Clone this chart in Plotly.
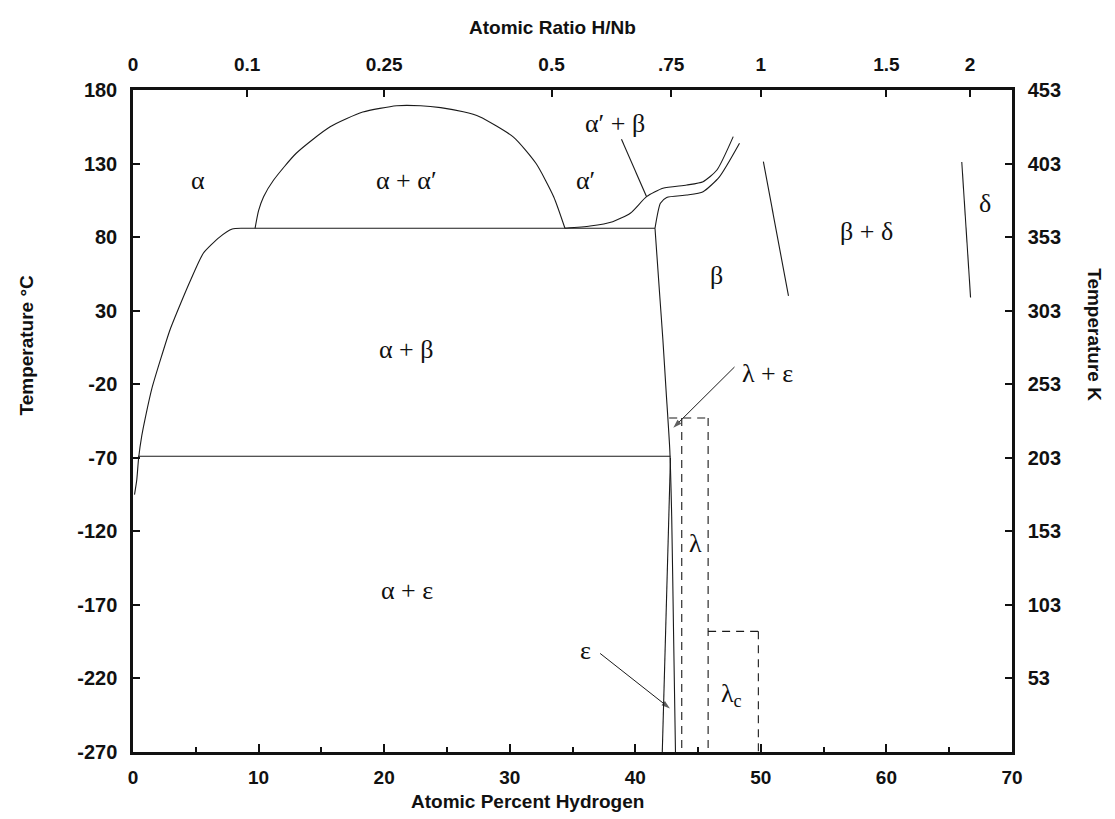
import plotly.graph_objects as go

# ---------------- data ----------------
# alpha solvus (alpha / alpha+beta boundary)
alpha_solvus_x = [0.12, 0.3, 0.45, 0.7, 1.0, 1.5, 2.2, 2.95, 3.8, 4.6, 5.6, 6.9, 7.9, 8.6]
alpha_solvus_t = [-95, -85, -70, -55, -42, -23, -3, 17, 35, 51, 69, 80, 85.5, 86]

# tie line at ~86 C
tie86_x = [8.6, 41.57]
tie86_t = [86, 86]

# alpha + alpha' miscibility dome
dome_x = [9.72, 10.0, 10.4, 11.2, 13.0, 15.7, 18.3, 21.0, 22.9, 24.5, 26.3, 27.6, 30.3, 32.1, 33.5, 34.4]
dome_t = [86, 98, 107.5, 118.8, 137, 155, 165, 169.3, 169.3, 168, 165.2, 161.9, 148, 130, 107.5, 86]

# alpha' / alpha'+beta boundary
alpha_p_x = [34.4, 36.4, 38.2, 39.6, 40.9, 42.2, 44.1, 45.4, 46.5, 47.8]
alpha_p_t = [86, 87.5, 90.5, 96.2, 107.5, 113.2, 115.4, 117.7, 125.6, 148.3]

# beta boundary, upper part
beta_up_x = [41.57, 42.0, 42.5, 44.1, 45.4, 46.7, 48.3]
beta_up_t = [86, 103, 107, 108.6, 110.9, 121, 143.8]

# beta boundary, lower part (down to the bottom)
beta_low_x = [41.57, 41.95, 42.2, 42.45, 42.75, 42.9, 43.05, 43.2]
beta_low_t = [86, 40, 10, -24, -65, -110, -190, -270]

# epsilon left boundary
eps_x = [42.15, 42.45, 42.8]
eps_t = [-270, -170, -70]

# tie line at ~ -70 C
tie70_x = [0.4, 42.8]
tie70_t = [-69, -69]

# beta / beta+delta and delta boundaries
bd_x = [50.2, 52.2]
bd_t = [131.3, 40]
delta_x = [66.0, 66.7]
delta_t = [131, 39]

# dashed lambda and lambda_c fields
lam_top_x = [42.7, 45.8]
lam_top_t = [-43, -43]
lam_left_x = [43.7, 43.7]
lam_left_t = [-43, -270]
lam_right_x = [45.8, 45.8]
lam_right_t = [-43, -270]
lamc_top_x = [45.8, 49.8]
lamc_top_t = [-188, -188]
lamc_right_x = [49.8, 49.8]
lamc_right_t = [-188, -270]

# phase labels
label_text = ["α", "α + α′", "α + β", "α + ε", "α′", "α′ + β", "β", "β + δ", "δ",
              "λ", "λ<sub>c</sub>", "λ + ε", "ε"]
label_x = [5.2, 21.8, 21.8, 21.8, 36.0, 38.4, 46.5, 58.4, 67.85, 44.8, 47.7, 50.5, 36.0]
label_t = [118.8, 118.8, 3.3, -160, 118.8, 157.3, 54.2, 83.7, 103, -128, -231, -12.6, -200.7]

# leader line and arrows
leader_x = [38.9, 40.9]
leader_t = [146.5, 107.5]
arrow_tail_x = [47.9, 37.2]
arrow_tail_t = [-8.3, -203]
arrow_tip_x = [43.03, 42.76]
arrow_tip_t = [-49.6, -240.4]

# axes
x_ticks = [0, 10, 20, 30, 40, 50, 60, 70]
ratio_ticks = [0, 0.1, 0.25, 0.5, 0.75, 1, 1.5, 2]
ratio_labels = ["0", "0.1", "0.25", "0.5", ".75", "1", "1.5", "2"]
c_ticks = [-270, -220, -170, -120, -70, -20, 30, 80, 130, 180]
c_labels = [str(t) for t in c_ticks]
k_ticks = [-220, -170, -120, -70, -20, 30, 80, 130, 180]
k_labels = [str(t + 273) for t in k_ticks]

# ---------------- figure ----------------
LC = "#1a1a1a"
fig = go.Figure()

def solid(x, y, shape="linear", w=1.1):
    fig.add_trace(go.Scatter(x=x, y=y, mode="lines", showlegend=False, hoverinfo="skip",
                             line=dict(color=LC, width=w, shape=shape, smoothing=0.6)))

def dashed(x, y):
    fig.add_trace(go.Scatter(x=x, y=y, mode="lines", showlegend=False, hoverinfo="skip",
                             line=dict(color=LC, width=1.1, dash="8px,6px")))

solid(alpha_solvus_x, alpha_solvus_t, "spline")
solid(tie86_x, tie86_t)
solid(dome_x, dome_t, "spline")
solid(alpha_p_x, alpha_p_t, "spline")
solid(beta_up_x, beta_up_t, "spline")
solid(beta_low_x, beta_low_t, "spline")
solid(eps_x, eps_t)
solid(tie70_x, tie70_t)
solid(bd_x, bd_t)
solid(delta_x, delta_t)
solid(leader_x, leader_t)
for xs, ys in [(lam_top_x, lam_top_t), (lam_left_x, lam_left_t), (lam_right_x, lam_right_t),
               (lamc_top_x, lamc_top_t), (lamc_right_x, lamc_right_t)]:
    dashed(xs, ys)

# arrows: shaft plus arrow-shaped marker at the tip, oriented along the shaft
for tx, ty, hx, hy in zip(arrow_tail_x, arrow_tail_t, arrow_tip_x, arrow_tip_t):
    fig.add_trace(go.Scatter(x=[tx, hx], y=[ty, hy], mode="lines+markers", showlegend=False,
                             hoverinfo="skip", line=dict(color=LC, width=1),
                             marker=dict(symbol="arrow", size=[0, 9], angleref="previous",
                                         color=LC, line=dict(width=0))))

# invisible trace to activate secondary axes
fig.add_trace(go.Scatter(x=[0, 70], y=[-270, 180], xaxis="x2", yaxis="y2", mode="markers",
                         marker=dict(opacity=0), showlegend=False, hoverinfo="skip"))

serif = dict(family="Liberation Serif, Times New Roman, serif", size=26, color="#111")
for t, x, y in zip(label_text, label_x, label_t):
    fig.add_annotation(x=x, y=y, text=t, showarrow=False, font=serif,
                       xanchor="center", yanchor="middle")

SANS = "Liberation Sans, Arial, Helvetica, sans-serif"
boldf = dict(family=SANS, size=19, color="#111")
fig.add_annotation(xref="paper", yref="paper", x=-0.121, y=0.615, text="<b>Temperature °C</b>",
                   textangle=-90, showarrow=False, font=boldf, xanchor="center", yanchor="middle")
fig.add_annotation(xref="paper", yref="paper", x=1.093, y=0.630, text="<b>Temperature K</b>",
                   textangle=90, showarrow=False, font=boldf, xanchor="center", yanchor="middle")
fig.add_annotation(xref="paper", yref="paper", x=0.449, y=-0.0755, text="<b>Atomic Percent Hydrogen</b>",
                   showarrow=False, font=boldf, xanchor="center", yanchor="middle")
fig.add_annotation(xref="paper", yref="paper", x=0.4767, y=1.095, text="<b>Atomic Ratio H/Nb</b>",
                   showarrow=False, font=boldf, xanchor="center", yanchor="middle")

tick_x = dict(family=SANS, size=19, color="#111", weight="bold")
tick_y = dict(family=SANS, size=20, color="#111", weight="bold")
axis_common = dict(showgrid=False, zeroline=False, showline=True, linecolor="#111", linewidth=2.5,
                   ticks="inside", tickcolor="#111", tickwidth=1.5)

fig.update_layout(
    width=1115, height=819,
    margin=dict(l=125, r=111, t=82, b=75),
    paper_bgcolor="white", plot_bgcolor="white",
    xaxis=dict(range=[0, 70], tickvals=x_ticks, ticklen=8, tickfont=tick_x,
               minor=dict(dtick=5, ticks="inside", ticklen=5, tickcolor="#111", tickwidth=1.5),
               ticklabelstandoff=6, **axis_common),
    xaxis2=dict(range=[0, 70], overlaying="x", side="top", tickfont=tick_x,
                tickvals=[r / (1 + r) * 100 for r in ratio_ticks], ticktext=ratio_labels,
                ticklen=7, ticklabelstandoff=9, **axis_common),
    yaxis=dict(range=[-270, 180], tickvals=c_ticks, ticktext=c_labels, ticklen=7,
               tickfont=tick_y, ticklabelstandoff=9, **axis_common),
    yaxis2=dict(range=[-270, 180], overlaying="y", side="right", tickvals=k_ticks, ticktext=k_labels,
                tickfont=tick_y, ticklen=7, ticklabelstandoff=9, **axis_common),
)

fig.write_html("out.html")
